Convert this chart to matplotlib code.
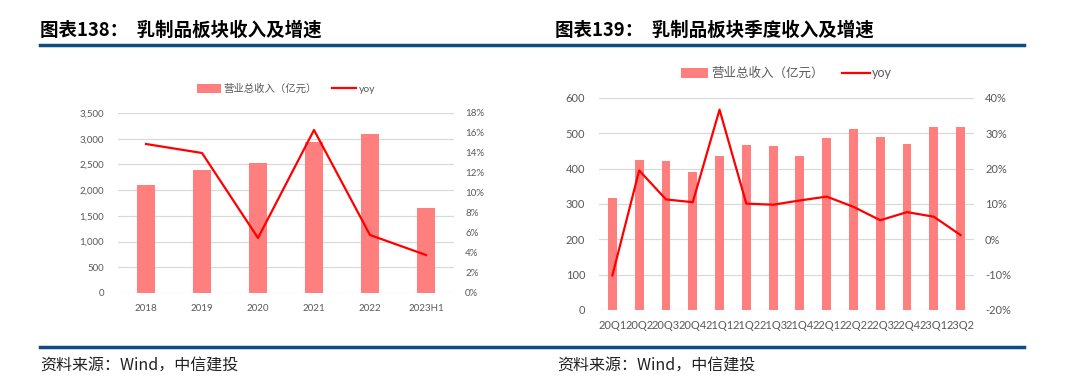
import matplotlib
matplotlib.use("Agg")
import matplotlib.pyplot as plt
from matplotlib.ticker import FuncFormatter, MultipleLocator
import numpy as np

plt.rcParams['font.family'] = ['Lato', 'Noto Sans CJK SC', 'DejaVu Sans']

# annual data (chart 138)
years = ['2018', '2019', '2020', '2021', '2022', '2023H1']
rev_year = [2100, 2390, 2530, 2930, 3100, 1650]
yoy_year = [14.9, 14.0, 5.5, 16.3, 5.8, 3.8]

# quarterly data (chart 139)
quarters = ['20Q1', '20Q2', '20Q3', '20Q4', '21Q1', '21Q2', '21Q3', '21Q4',
            '22Q1', '22Q2', '22Q3', '22Q4', '23Q1', '23Q2']
rev_q = [318, 424, 422, 390, 435, 467, 464, 435, 487, 511, 491, 469, 517, 517]
yoy_q = [-10.2, 19.5, 11.3, 10.5, 36.7, 10.1, 9.8, 11.0, 12.1, 9.2, 5.4, 7.7, 6.4, 1.2]

bar_col = '#FF7F7F'
line_col = '#FF0000'
grid_col = '#D9D9D9'
txt_col = '#595959'
rule_col = '#0F4C81'

fig = plt.figure(figsize=(10.8, 3.9), dpi=100)
W, H = 1080, 390


def px(x0, y0, x1, y1):
    return [x0 / W, 1 - y1 / H, (x1 - x0) / W, (y1 - y0) / H]


def style_axes(ax, ax2, fs):
    for a in (ax, ax2):
        for s in a.spines.values():
            s.set_visible(False)
        a.tick_params(length=0, labelsize=fs, labelcolor=txt_col)
    ax.yaxis.grid(True, color=grid_col, linewidth=0.9)
    ax.set_axisbelow(True)


# ---- left chart ----
ax = fig.add_axes(px(118, 113, 454, 293))
ax2 = ax.twinx()
x = np.arange(len(years))
b1 = ax.bar(x, rev_year, width=0.32, color=bar_col)
l1, = ax2.plot(x, yoy_year, color=line_col, linewidth=1.6)
ax.set_xlim(-0.5, len(years) - 0.5)
ax.set_ylim(0, 3500)
ax.yaxis.set_major_locator(MultipleLocator(500))
ax.yaxis.set_major_formatter(FuncFormatter(lambda v, p: f'{v:,.0f}'))
ax2.set_ylim(0, 18)
ax2.yaxis.set_major_locator(MultipleLocator(2))
ax2.yaxis.set_major_formatter(FuncFormatter(lambda v, p: f'{v:.0f}%'))
ax.set_xticks(x)
ax.set_xticklabels(years)
style_axes(ax, ax2, 7)
ax.tick_params(axis='y', pad=10)
ax2.tick_params(axis='y', pad=8)
ax.tick_params(axis='x', pad=8)
ax.legend([b1, l1], ['营业总收入（亿元）', 'yoy'], loc='center', bbox_to_anchor=(0.5, 1.135),
          ncol=2, frameon=False, fontsize=7.5, labelcolor=txt_col, handlelength=2.3,
          handleheight=0.9, columnspacing=1.4, handletextpad=0.3)

# ---- right chart ----
bx = fig.add_axes(px(599, 98, 974, 310))
bx2 = bx.twinx()
xq = np.arange(len(quarters))
b2 = bx.bar(xq, rev_q, width=0.33, color=bar_col)
l2, = bx2.plot(xq, yoy_q, color=line_col, linewidth=1.6)
bx.set_xlim(-0.5, len(quarters) - 0.5)
bx.set_ylim(0, 600)
bx.yaxis.set_major_locator(MultipleLocator(100))
bx2.set_ylim(-20, 40)
bx2.yaxis.set_major_locator(MultipleLocator(10))
bx2.yaxis.set_major_formatter(FuncFormatter(lambda v, p: f'{v:.0f}%'))
bx.set_xticks(xq)
bx.set_xticklabels(quarters)
style_axes(bx, bx2, 8)
bx.tick_params(axis='y', pad=10)
bx2.tick_params(axis='y', pad=8)
bx.tick_params(axis='x', pad=7)
bx.legend([b2, l2], ['营业总收入（亿元）', 'yoy'], loc='center', bbox_to_anchor=(0.5, 1.118),
          ncol=2, frameon=False, fontsize=9, labelcolor=txt_col, handlelength=2.2,
          handleheight=0.8, columnspacing=1.5, handletextpad=0.2)

# ---- titles, rules, sources ----
fig.text(40 / W, 1 - 30 / H, '图表138：  乳制品板块收入及增速', fontsize=13.3, fontweight='bold',
         family=['Noto Sans CJK SC'], va='center', ha='left', color='black')
fig.text(555 / W, 1 - 30 / H, '图表139：  乳制品板块季度收入及增速', fontsize=13.3, fontweight='bold',
         family=['Noto Sans CJK SC'], va='center', ha='left', color='black')
fig.add_artist(plt.Line2D([40 / W, 1024 / W], [1 - 45 / H, 1 - 45 / H], color=rule_col, linewidth=2.5))
fig.add_artist(plt.Line2D([40 / W, 1024 / W], [1 - 347 / H, 1 - 347 / H], color=rule_col, linewidth=2.5))
fig.text(40 / W, 1 - 366 / H, '资料来源：Wind，中信建投', fontsize=11.5, style='italic',
         family=['Noto Sans CJK SC'], va='center', ha='left', color='#222222')
fig.text(557 / W, 1 - 366 / H, '资料来源：Wind，中信建投', fontsize=11.5, style='italic',
         family=['Noto Sans CJK SC'], va='center', ha='left', color='#222222')

fig.savefig('out.png', dpi=100)
